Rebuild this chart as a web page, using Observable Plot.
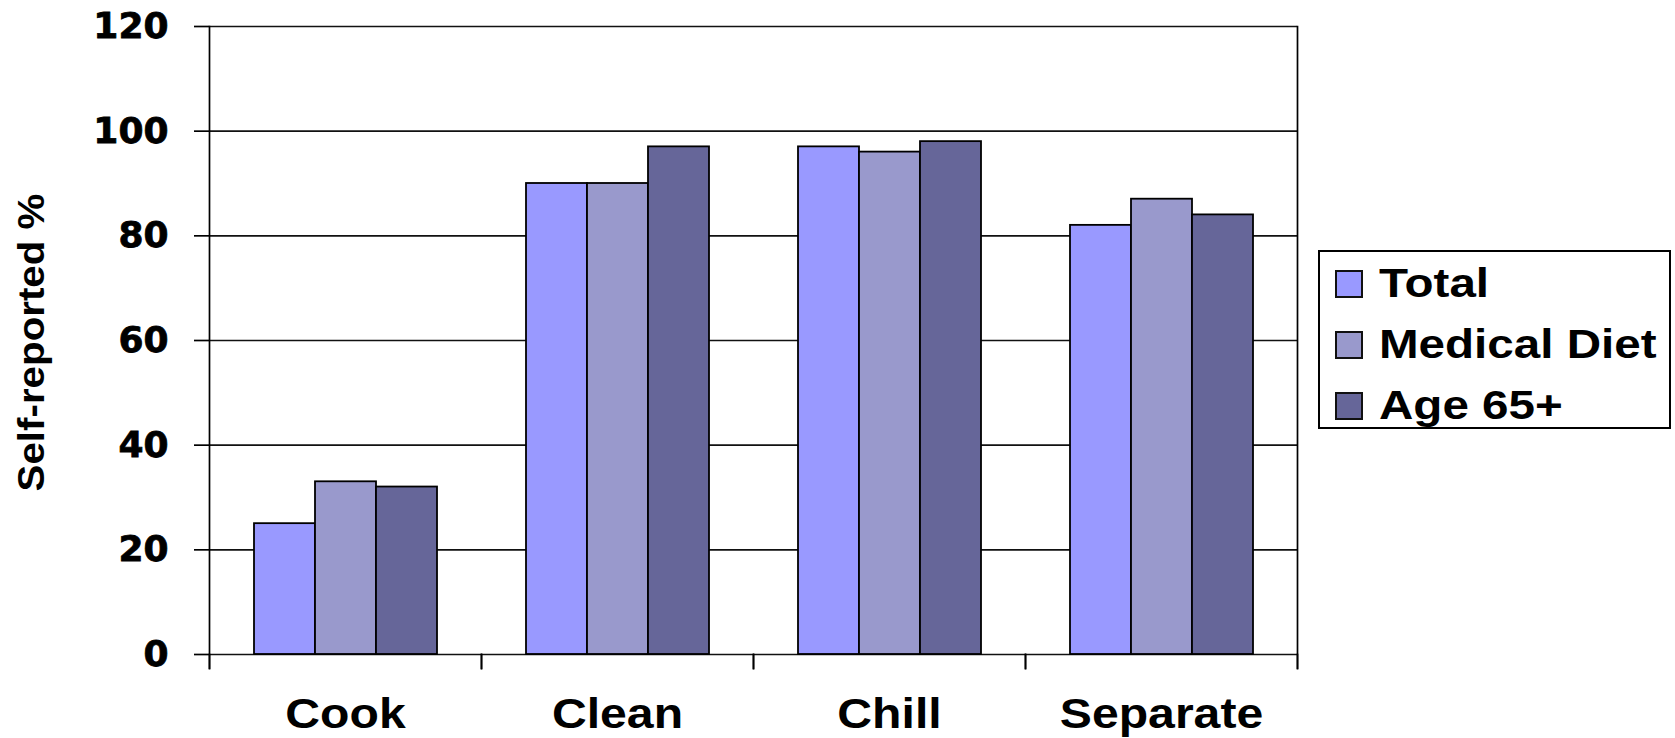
<!DOCTYPE html>
<html>
<head>
<meta charset="utf-8">
<script src="https://cdn.jsdelivr.net/npm/d3@7"></script>
<script src="https://cdn.jsdelivr.net/npm/@observablehq/plot@0.6"></script>
<style>
html, body { margin: 0; padding: 0; background: #fff; }
#wrap { position: relative; width: 1675px; height: 738px; overflow: hidden; }
#legend { position: absolute; left: 1318px; top: 250px; width: 349px; height: 175px; border: 2px solid #000; background: #fff; }
.sw { position: absolute; width: 28px; height: 28px; box-sizing: border-box; border: 2px solid #111; }
.lt { position: absolute; font-family: "Liberation Sans", Arial, sans-serif; font-weight: bold; font-size: 41px; line-height: 1; white-space: nowrap; transform: scaleX(1.16); transform-origin: 0 0; color: #000; }
g[aria-label="y-axis tick label"] text { stroke: #000; stroke-width: 0.8px; }
</style>
</head>
<body>
<div id="wrap"></div>
<script>
const categories = ["Cook", "Clean", "Chill", "Separate"];
const series = ["Total", "Medical Diet", "Age 65+"];
const totalValues = [25, 90, 97, 82];
const medicalDietValues = [33, 90, 96, 87];
const age65Values = [32, 97, 98, 84];
const yTicks = [0, 20, 40, 60, 80, 100, 120];
const colors = ["#9999FF", "#9999CC", "#666699"];
const yTitle = "Self-reported %";

const seriesValues = [totalValues, medicalDietValues, age65Values];
const rows = [];
categories.forEach((c, i) => {
  series.forEach((s, j) => rows.push({category: c, series: s, value: seriesValues[j][i]}));
});

const lineStyle = {stroke: "#000", strokeWidth: 1.7};

const svg = Plot.plot({
  width: 1675,
  height: 738,
  marginLeft: 209,
  marginRight: 378,
  marginTop: 26,
  marginBottom: 70,
  style: {fontFamily: "'Liberation Sans', Arial, sans-serif", background: "white", overflow: "visible"},
  fx: {domain: categories, padding: 0},
  x: {domain: series, paddingInner: 0, paddingOuter: 0.72, axis: null},
  y: {domain: [0, 120], insetBottom: 14},
  color: {domain: series, range: colors},
  marks: [
    Plot.ruleY(yTicks, {stroke: "#111", strokeWidth: 1.7}),
    Plot.barY(rows, {fx: "category", x: "series", y: "value", fill: "series", stroke: "#000", strokeWidth: 1.8}),
    Plot.frame({anchor: "left", insetTop: 628, ...lineStyle}),
    Plot.frame({anchor: "right", insetTop: 628, ...lineStyle}),
    Plot.frame({anchor: "left", fx: () => categories[0], ...lineStyle}),
    Plot.frame({anchor: "right", fx: () => categories[categories.length - 1], ...lineStyle}),
    Plot.axisY({ticks: yTicks, tickSize: 15, tickPadding: 26, label: null, fontSize: 36, fontWeight: "bold", fontFamily: "DejaVu Sans", strokeWidth: 1.7}),
    Plot.axisFx({anchor: "bottom", tickSize: 0, tickPadding: 29, label: null, fontSize: 43, fontWeight: "bold"}),
    Plot.text([yTitle], {fx: () => categories[0], text: d => d, frameAnchor: "left", textAnchor: "middle", rotate: -90, dx: -177, dy: -5, fontSize: 37, fontWeight: "bold"})
  ]
});

function stretch(sel, k) {
  svg.querySelectorAll(sel).forEach(t => {
    let tr = t.getAttribute("transform") || "";
    const x = t.getAttribute("x"), y = t.getAttribute("y");
    if (!tr && (x != null || y != null)) {
      tr = `translate(${x || 0},${y || 0})`;
      t.removeAttribute("x"); t.removeAttribute("y");
    }
    t.setAttribute("transform", tr + ` scale(${k},1)`);
  });
}
stretch('g[aria-label="fx-axis tick label"] text', 1.12);
stretch('g[aria-label="text"] text', 1.09);

const wrap = document.getElementById("wrap");
wrap.appendChild(svg);

const legend = document.createElement("div");
legend.id = "legend";
wrap.appendChild(legend);
series.forEach((s, i) => {
  const sw = document.createElement("div");
  sw.className = "sw";
  sw.style.left = "1335px";
  sw.style.top = (270 + 61 * i) + "px";
  sw.style.background = colors[i];
  wrap.appendChild(sw);
  const lt = document.createElement("div");
  lt.className = "lt";
  lt.style.left = "1379px";
  lt.style.top = (263 + 61 * i) + "px";
  lt.textContent = s;
  wrap.appendChild(lt);
});
</script>
</body>
</html>
